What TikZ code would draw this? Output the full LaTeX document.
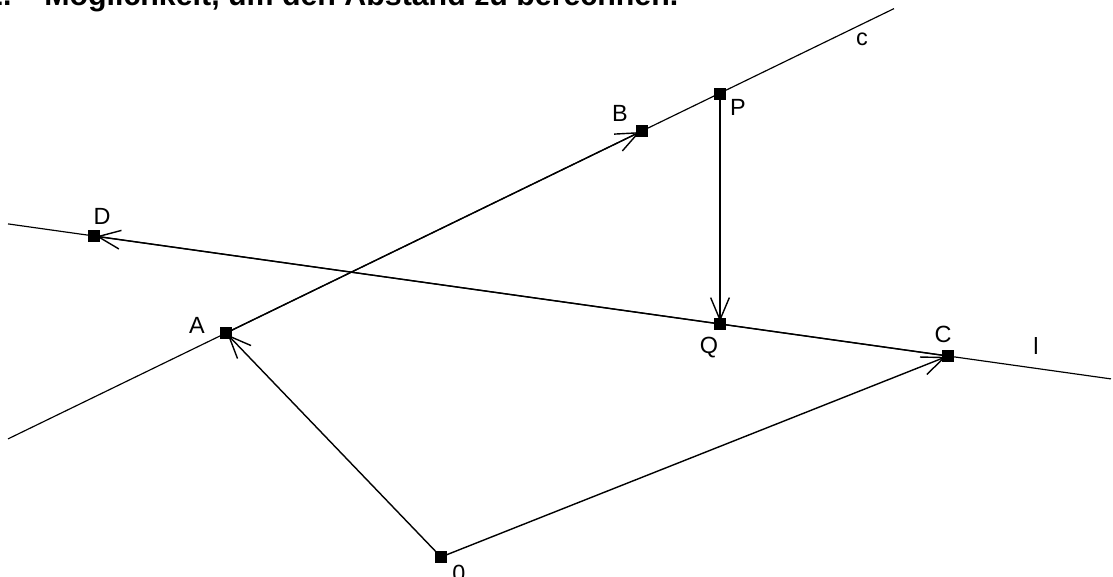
\documentclass[tikz,border=0pt]{standalone}
\usepackage{fontspec}
\setmainfont{Liberation Sans}
\usetikzlibrary{arrows.meta}

\begin{document}
\begin{tikzpicture}[x=0.03cm, y=-0.03cm, >={Straight Barb[length=19pt,width=16pt]},
    punkt/.style={fill=black, minimum size=10pt, inner sep=0pt},
    vec/.style={->, line width=1.2pt, shorten >=2pt},
    lbl/.style={font=\fontsize{20}{22}\selectfont, inner sep=0pt}]
    \useasboundingbox (0,0) rectangle (1113,576);
    \node[anchor=base west, inner sep=0pt, font=\bfseries\fontsize{25.9}{28}\selectfont] (titel) at (-14,5) {2.\hspace{28pt}Möglichkeit, um den Abstand zu berechnen.};
    % Punkte
    \coordinate (A) at (226,333);
    \coordinate (B) at (642,131);
    \coordinate (C) at (948,356);
    \coordinate (D) at (94,236);
    \coordinate (P) at (720,94);
    \coordinate (Q) at (720,324);
    \coordinate (O) at (441,557);
    % Geraden c und l
    \coordinate (c1) at (8,438.9);
    \coordinate (c2) at (894,8.6);
    \coordinate (l1) at (8,223.9);
    \coordinate (l2) at (1111,378.9);
    \draw[line width=1pt] (c1) -- (c2);
    \draw[line width=1pt] (l1) -- (l2);
    % Vektoren
    \draw[vec] (O) -- (A);
    \draw[vec] (O) -- (C);
    \draw[vec] (A) -- (B);
    \draw[vec] (C) -- (D);
    \draw[vec] (P) -- (Q);
    \foreach \p in {A,B,C,D,P,Q,O}
        \node[punkt] (p\p) at (\p) {};
    % Beschriftung
    \node[lbl] (lA) at (197,325) {A};
    \node[lbl] (lB) at (620,113) {B};
    \node[lbl] (lC) at (943,334) {C};
    \node[lbl] (lD) at (102,216) {D};
    \node[lbl] (lP) at (738,107) {P};
    \node[lbl] (lQ) at (709,348) {Q};
    \node[lbl] (lO) at (459,573) {0};
    \node[lbl] (lc) at (862,39) {c};
    \node[lbl] (ll) at (1036,346) {l};
\end{tikzpicture}
\end{document}
